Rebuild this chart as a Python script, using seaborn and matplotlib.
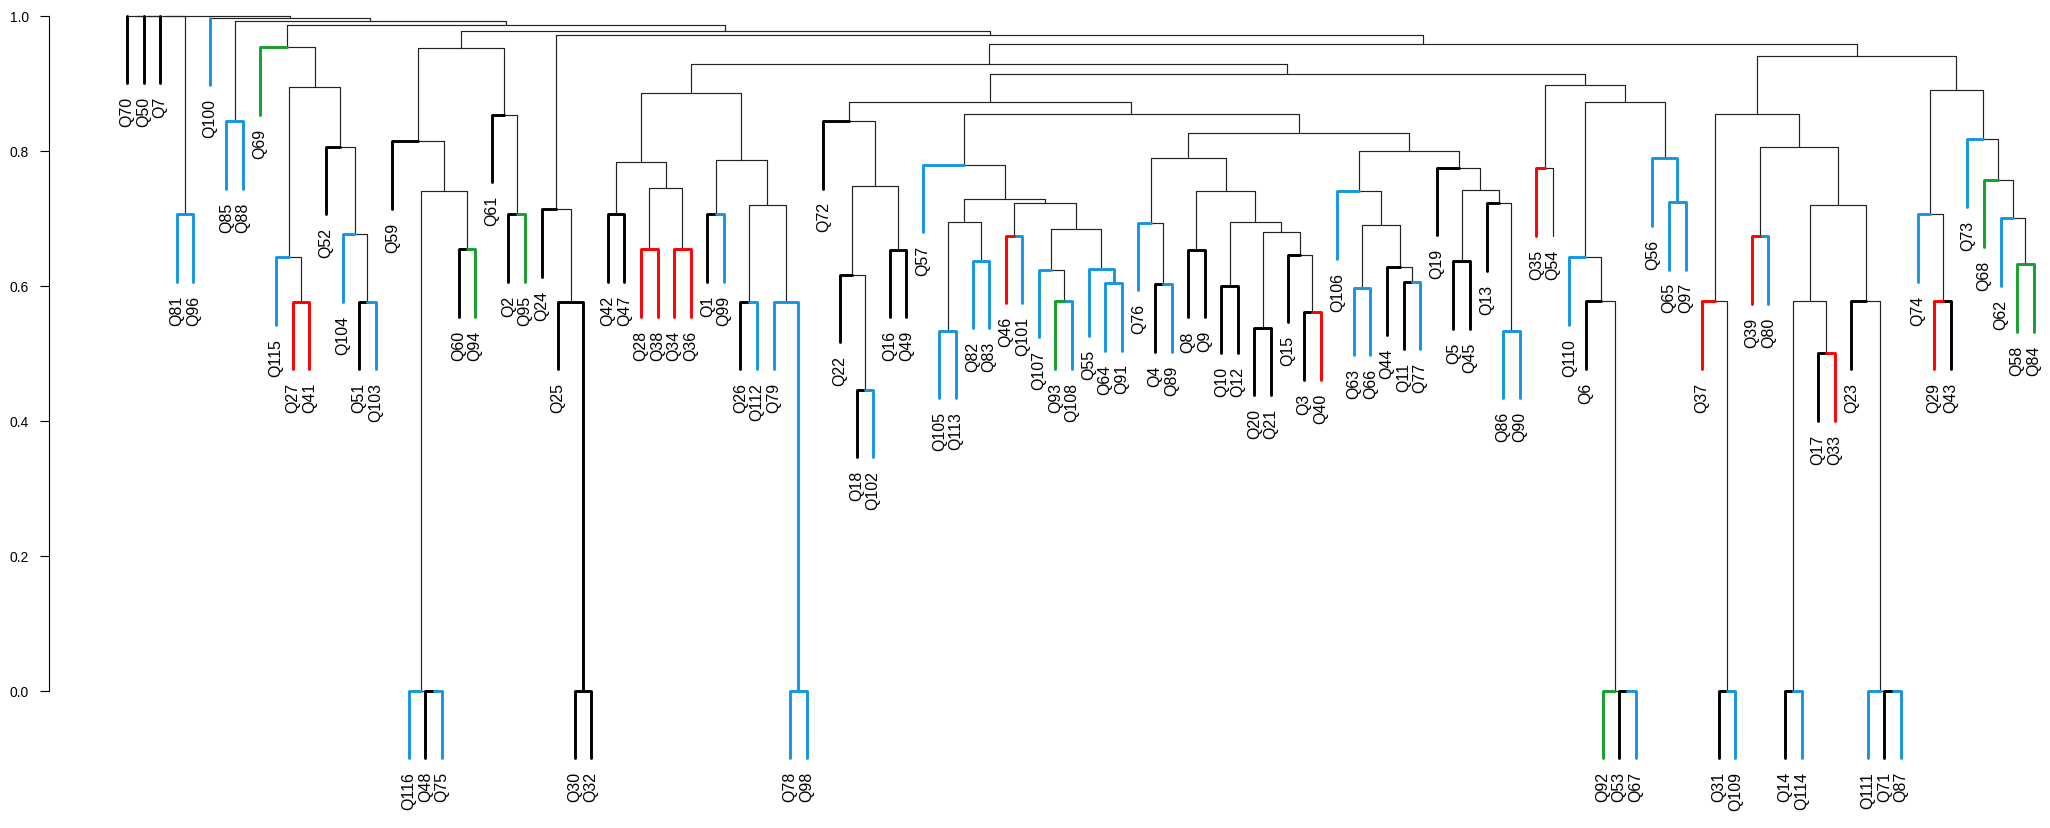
import numpy as np
import pandas as pd
import matplotlib
matplotlib.use("Agg")
import matplotlib.pyplot as plt
import seaborn as sns

# ---------------- data ----------------
# merges: (node, left child, right child, merge height)
merges = [
    ("ROOT", "R3", "A", 1.000),
    ("R3", "R2", "C8196", 1.000),
    ("R2", "R1", "Q7", 1.000),
    ("R1", "Q70", "Q50", 1.000),
    ("C8196", "Q81", "Q96", 0.706),
    ("A", "Q100", "B", 0.997),
    ("B", "C8588", "D", 0.992),
    ("C8588", "Q85", "Q88", 0.844),
    ("D", "E", "F", 0.986),
    ("E", "Q69", "G", 0.953),
    ("G", "H", "I", 0.895),
    ("H", "Q115", "J", 0.642),
    ("J", "Q27", "Q41", 0.576),
    ("I", "Q52", "K", 0.806),
    ("K", "Q104", "L", 0.676),
    ("L", "Q51", "Q103", 0.576),
    ("F", "M", "N", 0.978),
    ("M", "P", "U", 0.952),
    ("P", "Q59", "R", 0.814),
    ("R", "S", "T", 0.741),
    ("S", "Q116", "S2", 0.000),
    ("S2", "Q48", "Q75", 0.000),
    ("T", "Q60", "Q94", 0.654),
    ("U", "Q61", "V", 0.853),
    ("V", "Q2", "Q95", 0.706),
    ("N", "W", "X", 0.972),
    ("W", "Q24", "W2", 0.713),
    ("W2", "Q25", "W3", 0.576),
    ("W3", "Q30", "Q32", 0.000),
    ("X", "X1", "Z", 0.958),
    ("X1", "AA", "AB", 0.928),
    ("AA", "AC", "AD", 0.885),
    ("AC", "AE", "AF", 0.784),
    ("AE", "Q42", "Q47", 0.706),
    ("AF", "AG", "AH", 0.745),
    ("AG", "Q28", "Q38", 0.654),
    ("AH", "Q34", "Q36", 0.654),
    ("AD", "AI", "AJ", 0.786),
    ("AI", "Q1", "Q99", 0.706),
    ("AJ", "AK", "AL", 0.719),
    ("AK", "Q26", "Q112", 0.576),
    ("AL", "Q79", "AM", 0.576),
    ("AM", "Q78", "Q98", 0.000),
    ("AB", "AN", "AO", 0.914),
    ("AN", "AP", "AQ", 0.872),
    ("AP", "Q72", "AR", 0.844),
    ("AR", "AS", "AT", 0.747),
    ("AS", "Q22", "AU", 0.616),
    ("AU", "Q18", "Q102", 0.446),
    ("AT", "Q16", "Q49", 0.653),
    ("AQ", "AV", "AW", 0.854),
    ("AV", "Q57", "AX", 0.779),
    ("AX", "AY", "AZ", 0.728),
    ("AY", "BA", "BB", 0.695),
    ("BA", "Q105", "Q113", 0.533),
    ("BB", "Q82", "Q83", 0.637),
    ("AZ", "BC", "BD", 0.722),
    ("BC", "Q46", "Q101", 0.674),
    ("BD", "BE", "BF", 0.684),
    ("BE", "Q107", "BG", 0.624),
    ("BG", "Q93", "Q108", 0.577),
    ("BF", "Q55", "BH", 0.625),
    ("BH", "Q64", "Q91", 0.604),
    ("AW", "BI", "BJ", 0.826),
    ("BI", "BK", "BL", 0.789),
    ("BK", "Q76", "BM", 0.693),
    ("BM", "Q4", "Q89", 0.602),
    ("BL", "BN", "BO", 0.741),
    ("BN", "Q8", "Q9", 0.653),
    ("BO", "BP", "BQ", 0.695),
    ("BP", "Q10", "Q12", 0.600),
    ("BQ", "BR", "BS", 0.679),
    ("BR", "Q20", "Q21", 0.538),
    ("BS", "Q15", "BT", 0.646),
    ("BT", "Q3", "Q40", 0.561),
    ("BJ", "BU", "BV", 0.799),
    ("BU", "Q106", "BW", 0.740),
    ("BW", "BX", "BY", 0.690),
    ("BX", "Q63", "Q66", 0.597),
    ("BY", "Q44", "BZ", 0.627),
    ("BZ", "Q11", "Q77", 0.606),
    ("BV", "Q19", "CA", 0.775),
    ("CA", "CB", "CC", 0.742),
    ("CB", "Q5", "Q45", 0.636),
    ("CC", "Q13", "CD", 0.722),
    ("CD", "Q86", "Q90", 0.533),
    ("AO", "CE", "CF", 0.898),
    ("CE", "Q35", "Q54", 0.774),
    ("CF", "CG", "CH", 0.872),
    ("CG", "Q110", "CI", 0.642),
    ("CI", "Q6", "CJ", 0.577),
    ("CJ", "Q92", "CJ2", 0.000),
    ("CJ2", "Q53", "Q67", 0.000),
    ("CH", "Q56", "CK", 0.789),
    ("CK", "Q65", "Q97", 0.724),
    ("Z", "CL", "CV", 0.941),
    ("CL", "CM", "CN", 0.854),
    ("CM", "Q37", "CO", 0.577),
    ("CO", "Q31", "Q109", 0.000),
    ("CN", "CP", "CQ", 0.806),
    ("CP", "Q39", "Q80", 0.673),
    ("CQ", "CR", "CS", 0.719),
    ("CR", "CT", "CU", 0.577),
    ("CT", "Q14", "Q114", 0.000),
    ("CU", "Q17", "Q33", 0.500),
    ("CS", "Q23", "DC", 0.577),
    ("DC", "Q111", "DD", 0.000),
    ("DD", "Q71", "Q87", 0.000),
    ("CV", "CW", "CX", 0.890),
    ("CW", "Q74", "CY", 0.706),
    ("CY", "Q29", "Q43", 0.577),
    ("CX", "Q73", "CZ", 0.817),
    ("CZ", "Q68", "DA", 0.757),
    ("DA", "Q62", "DB", 0.700),
    ("DB", "Q58", "Q84", 0.632),
]

blue_leaves = ["Q81", "Q96", "Q100", "Q85", "Q88", "Q115", "Q104", "Q103", "Q116", "Q75",
               "Q99", "Q112", "Q79", "Q78", "Q98", "Q102", "Q57", "Q105", "Q113", "Q82",
               "Q83", "Q101", "Q107", "Q108", "Q55", "Q64", "Q91", "Q76", "Q89", "Q106",
               "Q63", "Q66", "Q77", "Q86", "Q90", "Q110", "Q67", "Q56", "Q65", "Q97",
               "Q109", "Q80", "Q114", "Q111", "Q87", "Q74", "Q73", "Q62"]
red_leaves = ["Q27", "Q41", "Q28", "Q38", "Q34", "Q36", "Q46", "Q40", "Q35", "Q37",
              "Q39", "Q33", "Q29"]
green_leaves = ["Q69", "Q94", "Q95", "Q93", "Q92", "Q68", "Q58", "Q84"]
plain_leaves = ["Q54"]
# inner branches drawn in a group colour
colored_inner = {"W3": "black", "AM": "blue", "BH": "blue", "CK": "blue"}

y_ticks = [0.0, 0.2, 0.4, 0.6, 0.8, 1.0]
y_tick_labels = ["0.0", "0.2", "0.4", "0.6", "0.8", "1.0"]
hang = 0.1
top_clip = 0.995   # branches hanging from the very top have thin black horizontals

palette = {"black": "#000000", "blue": "#1795E2", "red": "#FF0000", "green": "#13A02C"}

# ---------------- layout of the tree ----------------
children = {n: (l, r) for n, l, r, h in merges}
height = {n: h for n, l, r, h in merges}

def leaf_color(lab):
    if lab in blue_leaves:
        return "blue"
    if lab in red_leaves:
        return "red"
    if lab in green_leaves:
        return "green"
    if lab in plain_leaves:
        return "plain"
    return "black"

xpos = {}
leaf_order = []

def place(node):
    if node not in children:
        xpos[node] = float(len(leaf_order))
        leaf_order.append(node)
        return xpos[node]
    l, r = children[node]
    xl = place(l)
    xr = place(r)
    xpos[node] = (xl + xr) / 2.0
    return xpos[node]

place("ROOT")

rows = []
seg = 0
leaf_end = {}

def add(points, col):
    global seg
    for k, (px, py) in enumerate(points):
        rows.append({"seg": seg, "order": k, "x": px, "y": py, "col": col})
    seg += 1

for node, l, r, h in merges:
    for c in (l, r):
        if c in children:
            ch = height[c]
            col = colored_inner.get(c, "plain")
        else:
            ch = h - hang
            leaf_end[c] = ch
            col = leaf_color(c)
        if c not in children and h >= top_clip:
            add([(xpos[node], h), (xpos[c], h)], "plain")
            add([(xpos[c], h), (xpos[c], ch)], col)
        else:
            add([(xpos[node], h), (xpos[c], h), (xpos[c], ch)], col)

segs = pd.DataFrame(rows)
thin = segs[segs["col"] == "plain"]
thick = segs[segs["col"] != "plain"]

# ---------------- drawing ----------------
sns.set_style("white")
plt.rcParams["font.family"] = ["Liberation Sans", "DejaVu Sans"]

W, H = 2050, 829
fig = plt.figure(figsize=(W / 100, H / 100), dpi=100)
ax = fig.add_axes([0, 0, 1, 1])

px_per_leaf = 16.58
x_first = 127.0
ax.set_xlim(-x_first / px_per_leaf, (W - x_first) / px_per_leaf)
top_px, px_per_unit = 16.7, 675.0
ax.set_ylim(1 - (H - top_px) / px_per_unit, 1 + top_px / px_per_unit)

sns.lineplot(data=thin, x="x", y="y", units="seg", estimator=None, sort=False,
             color="#222222", lw=0.85, ax=ax, legend=False)
sns.lineplot(data=thick, x="x", y="y", units="seg", estimator=None, sort=False,
             hue="col", palette=palette, lw=2.1, ax=ax, legend=False)

for lab in leaf_order:
    ax.text(xpos[lab], leaf_end[lab] - 0.019, lab, rotation=90, ha="center", va="top",
            fontsize=11.5, color="black")

ax.set_xticks([])
ax.set_xlabel("")
ax.set_ylabel("")
ax.set_yticks(y_ticks)
ax.set_yticklabels(y_tick_labels, rotation=90, va="center", fontsize=12)
ax.tick_params(axis="y", length=6.5, width=0.8, pad=8, colors="black", left=True)
for s in ["top", "right", "bottom"]:
    ax.spines[s].set_visible(False)
ax.spines["left"].set_position(("data", (49 - x_first) / px_per_leaf))
ax.spines["left"].set_bounds(0, 1)
ax.spines["left"].set_linewidth(0.8)
ax.spines["left"].set_color("black")
ax.grid(False)
ax.set_facecolor("white")

fig.savefig("out.png", dpi=100, facecolor="white")
